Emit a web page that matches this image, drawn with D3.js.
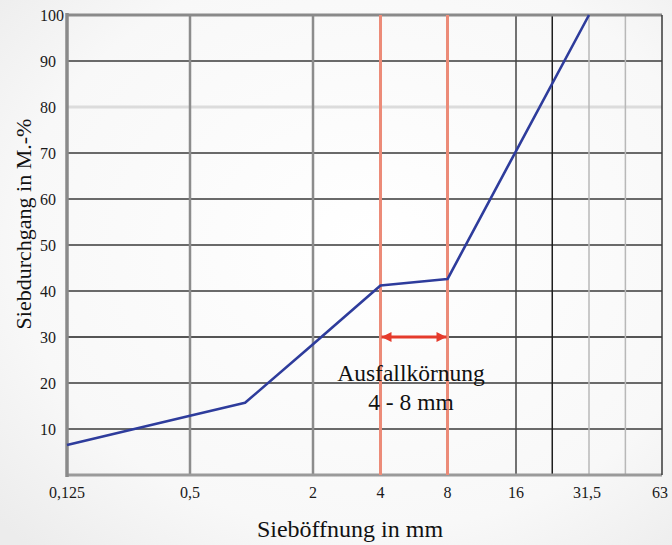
<!DOCTYPE html>
<html>
<head>
<meta charset="utf-8">
<script src="https://cdn.jsdelivr.net/npm/d3@7"></script>
<style>
	body{margin:0;background:#fff;}
</style>
</head>
<body>
<svg id="chart" width="672" height="545"></svg>
<script>
// sieve sizes in mm and passing percentage
const sieveSizes=[0.125,0.5,0.93,2,4,8,16,31.5];
const passing=[6.5,12.9,15.7,28.4,41.2,42.6,70.4,100];
// x ticks and labels
const xTicks=[0.125,0.5,2,4,8,16,31.5,63];
const xLabels=["0,125","0,5","2","4","8","16","31,5","63"];
const xMinor=[22.4,44.5];
const yTicks=[10,20,30,40,50,60,70,80,90,100];
const gapRange=[4,8];

const FONT="'Liberation Serif', Tinos, 'Times New Roman', 'DejaVu Serif', serif";
const svg=d3.select("#chart").attr("font-family",FONT);
const W=672,H=545;

// soft background
const defs=svg.append("defs");
const bg=defs.append("radialGradient").attr("id","bg").attr("cx","55%").attr("cy","45%").attr("r","75%");
bg.append("stop").attr("offset","0%").attr("stop-color","#ffffff");
bg.append("stop").attr("offset","70%").attr("stop-color","#f8f8f8");
bg.append("stop").attr("offset","100%").attr("stop-color","#ececec");
svg.append("rect").attr("width",W).attr("height",H).attr("fill","url(#bg)");

const pL=67,pR=662,pT=15,pB=475;
// piecewise log scale, the sheet is not spaced evenly
const x=d3.scaleLog()
	.domain(xTicks)
	.range([0,123,246,313.5,380.5,449,522,595].map(function(d){return pL+d;}));
const y=d3.scaleLinear().domain([0,100]).range([pB,pT]);

const grid=svg.append("g");
// horizontal grid
grid.selectAll("line.h")
	.data(yTicks.filter(function(d){return d<100;}))
	.enter().append("line")
		.attr("class","h")
		.attr("x1",pL).attr("x2",pR)
		.attr("y1",function(d){return y(d);}).attr("y2",function(d){return y(d);})
		.style("stroke",function(d){return d==80?"#dcdcdc":(d==30?"#555":"#6a6a6a");})
		.style("stroke-width",function(d){return d==80?3:2;});

// vertical grid
const vStyle={0.5:["#8c8c8c",2.5],2:["#8c8c8c",2.5],16:["#444",1.5],22.4:["#1e1e1e",1.5],31.5:["#b8b8b8",1.5],44.5:["#b8b8b8",1.5]};
grid.selectAll("line.v")
	.data([0.5,2,16,xMinor[0],31.5,xMinor[1]])
	.enter().append("line")
		.attr("class","v")
		.attr("x1",function(d){return x(d);}).attr("x2",function(d){return x(d);})
		.attr("y1",pT).attr("y2",pB)
		.style("stroke",function(d){return vStyle[d][0];})
		.style("stroke-width",function(d){return vStyle[d][1];});

// frame
svg.append("line").attr("x1",pL).attr("x2",pR).attr("y1",y(100)).attr("y2",y(100)).style("stroke","#8a8a8a").style("stroke-width",3);
svg.append("line").attr("x1",pL).attr("x2",pR).attr("y1",y(0)).attr("y2",y(0)).style("stroke","#9a9a9a").style("stroke-width",3);
svg.append("line").attr("x1",x(63)).attr("x2",x(63)).attr("y1",pT).attr("y2",pB).style("stroke","#3a3a3a").style("stroke-width",1.5);
svg.append("line").attr("x1",x(0.125)).attr("x2",x(0.125)).attr("y1",pT-2).attr("y2",pB+2).style("stroke","#8a8a8a").style("stroke-width",3.5);

// gap-graded range lines
svg.selectAll("line.gap")
	.data(gapRange)
	.enter().append("line")
		.attr("class","gap")
		.attr("x1",function(d){return x(d);}).attr("x2",function(d){return x(d);})
		.attr("y1",pT).attr("y2",pB)
		.style("stroke","#ec8b78")
		.style("stroke-width",3);

// grading curve
const line=d3.line()
	.x(function(d,i){return x(sieveSizes[i]);})
	.y(function(d){return y(d);});
svg.append("path")
	.datum(passing)
	.attr("d",line)
	.style("fill","none")
	.style("stroke","#2e3c9c")
	.style("stroke-width",2.6)
	.style("stroke-linejoin","round");

// double arrow
defs.append("marker").attr("id","ah").attr("viewBox","0 0 10 10").attr("refX",10).attr("refY",5)
	.attr("markerWidth",11).attr("markerHeight",10).attr("markerUnits","userSpaceOnUse").attr("orient","auto-start-reverse")
	.append("path").attr("d","M0,0L10,5L0,10z").style("fill","#e53b2c");
svg.append("line")
	.attr("x1",x(gapRange[0])+1).attr("x2",x(gapRange[1])-1)
	.attr("y1",y(30)).attr("y2",y(30))
	.style("stroke","#e53b2c").style("stroke-width",3)
	.attr("marker-start","url(#ah)").attr("marker-end","url(#ah)");

const mid=(x(gapRange[0])+x(gapRange[1]))/2;
svg.append("text").attr("x",mid-3).attr("y",y(20.5)).attr("text-anchor","middle")
	.style("font-size","23.5px").style("fill","#111").text("Ausfallkörnung");
svg.append("text").attr("x",mid-3).attr("y",y(14.2)).attr("text-anchor","middle")
	.style("font-size","23.5px").style("fill","#111").text("4 - 8 mm");

// tick labels
svg.append("g").selectAll("text")
	.data(yTicks)
	.enter().append("text")
		.attr("x",40)
		.attr("y",function(d){return y(d);})
		.attr("dy","0.35em")
		.style("font-size","16px").style("fill","#1a1a1a")
		.text(function(d){return d;});
svg.append("g").selectAll("text")
	.data(xTicks)
	.enter().append("text")
		.attr("x",function(d){return x(d)-(d>30?2:0);})
		.attr("y",498)
		.attr("text-anchor","middle")
		.style("font-size","16px").style("fill","#1a1a1a")
		.text(function(d,i){return xLabels[i];});

// axis titles
svg.append("text").attr("x",350).attr("y",537).attr("text-anchor","middle")
	.style("font-size","24px").style("fill","#111").text("Sieböffnung in mm");
svg.append("text").attr("transform","translate(31,224) rotate(-90)").attr("text-anchor","middle")
	.style("font-size","22px").style("fill","#111").text("Siebdurchgang in M.-%");
</script>
</body>
</html>
